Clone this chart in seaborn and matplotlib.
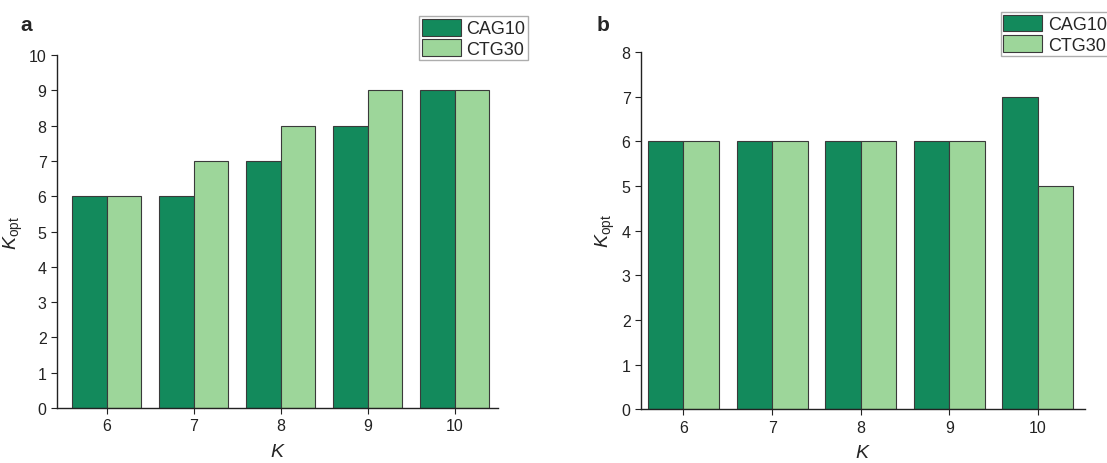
import matplotlib
matplotlib.use("Agg")
import matplotlib.pyplot as plt
import pandas as pd
import seaborn as sns

# ---------------- data ----------------
k_values = ["6", "7", "8", "9", "10"]
series_names = ["CAG10", "CTG30"]
a_cag10 = [6, 6, 7, 8, 9]
a_ctg30 = [6, 7, 8, 9, 9]
b_cag10 = [6, 6, 6, 6, 7]
b_ctg30 = [6, 6, 6, 6, 5]

colors = ["#138a5c", "#9dd69a"]


def to_long(cag, ctg):
    return pd.DataFrame({
        "K": k_values * 2,
        "Kopt": cag + ctg,
        "series": [series_names[0]] * len(k_values) + [series_names[1]] * len(k_values),
    })


sns.set_style("ticks")
plt.rcParams["font.family"] = ["Liberation Sans", "DejaVu Sans"]
plt.rcParams["mathtext.fontset"] = "custom"
plt.rcParams["mathtext.it"] = "Liberation Sans:italic"
plt.rcParams["mathtext.rm"] = "Liberation Sans"

fig = plt.figure(figsize=(11.07, 4.64), dpi=100)
ax_a = fig.add_axes([0.0515, 0.1185, 0.3985, 0.7605])
ax_b = fig.add_axes([0.579, 0.116, 0.401, 0.770])

panels = [
    (ax_a, to_long(a_cag10, a_ctg30), 10, (-0.57, 4.5), "a", 0.018,
     dict(loc="upper left", bbox_to_anchor=(0.3785, 0.963))),
    (ax_b, to_long(b_cag10, b_ctg30), 8, (-0.48, 4.53), "b", 0.539,
     dict(loc="upper left", bbox_to_anchor=(0.904, 0.972))),
]

for ax, df, ymax, xlim, tag, tag_x, leg_kw in panels:
    sns.barplot(data=df, x="K", y="Kopt", hue="series", palette=colors,
                saturation=1, width=0.8, edgecolor="#3a3a3a", linewidth=0.8, ax=ax)
    ax.set_ylim(0, ymax)
    ax.set_xlim(*xlim)
    ax.set_yticks(range(0, ymax + 1))
    ax.spines[["top", "right"]].set_visible(False)
    ax.spines[["left", "bottom"]].set_linewidth(1.0)
    ax.spines[["left", "bottom"]].set_color("#222222")
    ax.tick_params(axis="both", direction="out", length=4, width=0.8,
                   labelsize=11.5, colors="#222222")
    ax.set_xlabel("$K$", fontsize=14, labelpad=7)
    ax.set_ylabel(r"$K_{\mathrm{opt}}$", fontsize=14, labelpad=3)
    ax.get_legend().remove()
    handles, labels = ax.get_legend_handles_labels()
    leg = fig.legend(handles, labels, bbox_transform=fig.transFigure, fontsize=13,
                     handlelength=2.15, handleheight=1.05, labelspacing=0.1,
                     borderpad=0.15, handletextpad=0.3, borderaxespad=0,
                     fancybox=False, frameon=True, **leg_kw)
    leg.get_frame().set_edgecolor("#999999")
    leg.get_frame().set_linewidth(1.0)
    fig.text(tag_x, 0.945, tag, fontsize=15, fontweight="bold", va="center")

fig.savefig("out.png", dpi=100)
